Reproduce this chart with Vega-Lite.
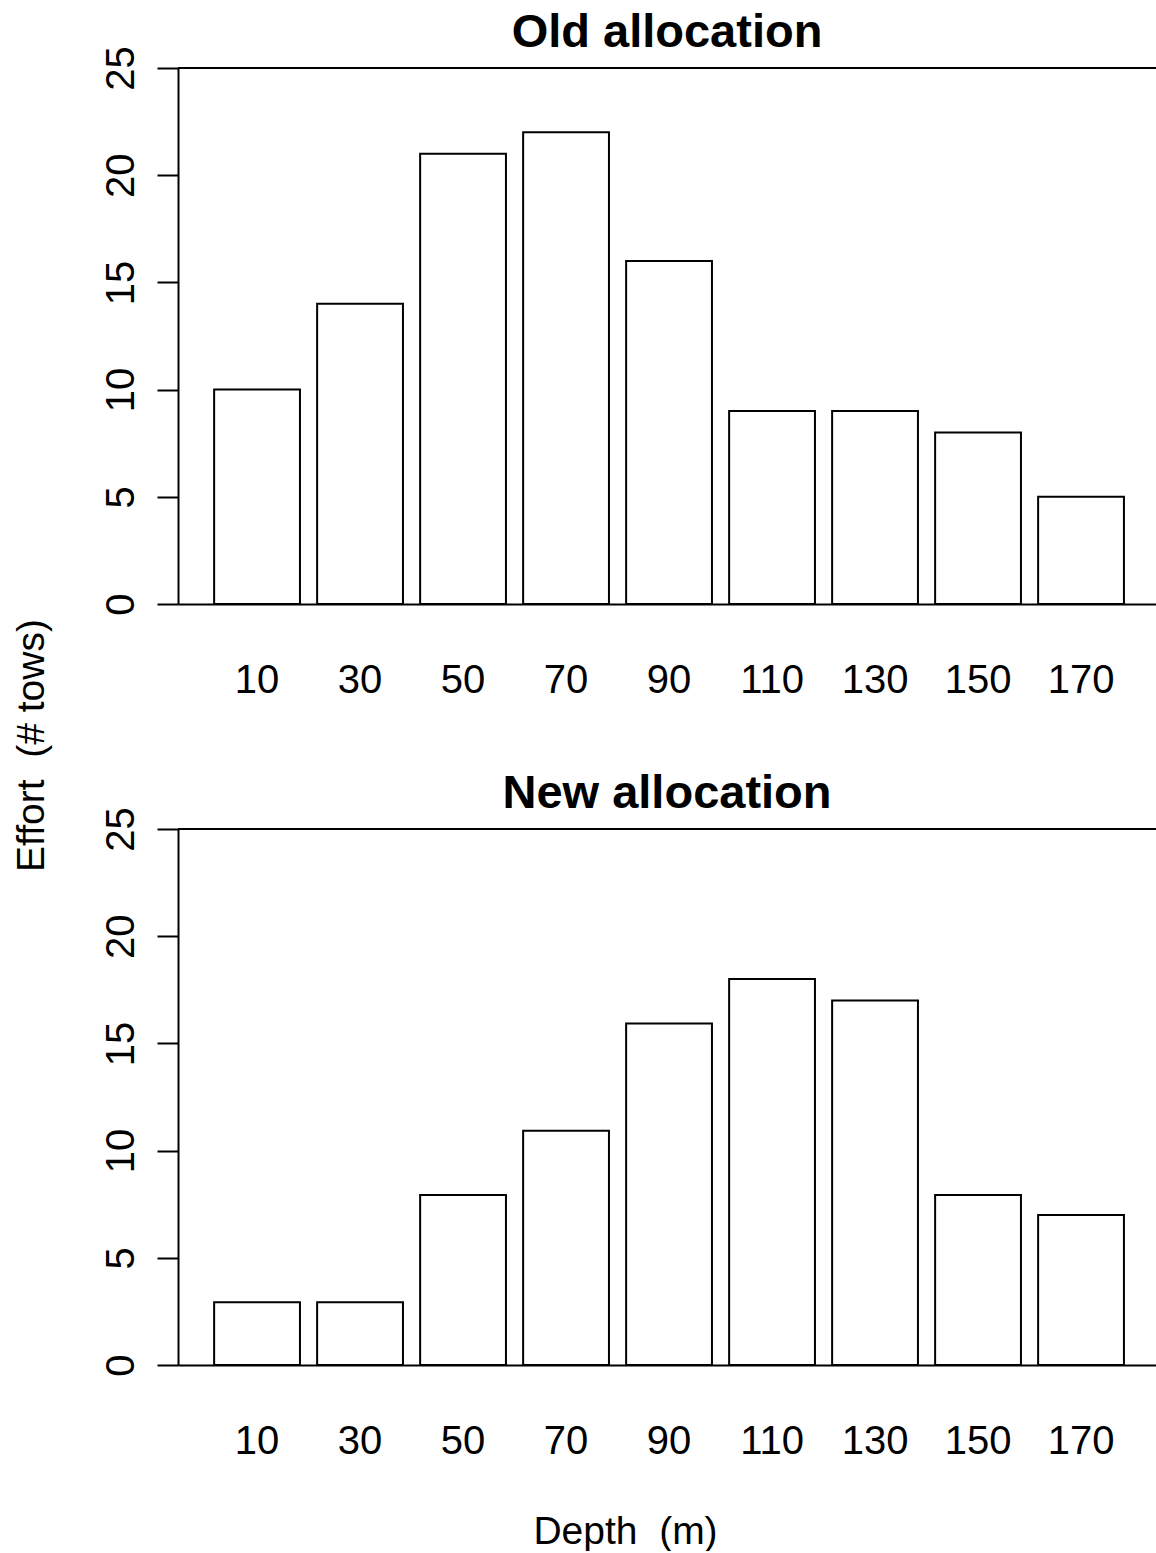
{
  "$schema": "https://vega.github.io/schema/vega-lite/v6.json",
  "background": "white",
  "padding": {"left": 12, "top": 8, "right": 0, "bottom": 0},
  "bounds": "flush",
  "spacing": 225,
  "config": {
    "view": {"stroke": null},
    "font": "Liberation Sans",
    "title": {"font": "Liberation Sans", "fontSize": 47, "fontWeight": "bold", "color": "black", "anchor": "middle", "baseline": "alphabetic", "offset": -11},
    "axis": {"labelFont": "Liberation Sans", "titleFont": "Liberation Sans", "labelColor": "black", "titleColor": "black", "domainColor": "black", "tickColor": "black", "domainWidth": 2, "tickWidth": 2, "grid": false, "labelFontSize": 40, "titleFontSize": 39, "titleFontWeight": "normal"}
  },
  "datasets": {
    "old": [
      {"depth": "10", "tows": 10},
      {"depth": "30", "tows": 14},
      {"depth": "50", "tows": 21},
      {"depth": "70", "tows": 22},
      {"depth": "90", "tows": 16},
      {"depth": "110", "tows": 9},
      {"depth": "130", "tows": 9},
      {"depth": "150", "tows": 8},
      {"depth": "170", "tows": 5}
    ],
    "new": [
      {"depth": "10", "tows": 2.93},
      {"depth": "30", "tows": 2.93},
      {"depth": "50", "tows": 7.93},
      {"depth": "70", "tows": 10.93},
      {"depth": "90", "tows": 15.93},
      {"depth": "110", "tows": 18},
      {"depth": "130", "tows": 17},
      {"depth": "150", "tows": 7.93},
      {"depth": "170", "tows": 7}
    ]
  },
  "vconcat": [
    {
      "width": 978,
      "height": 536,
      "title": {"text": "Old allocation"},
      "data": {"name": "old"},
      "layer": [
        {
          "mark": {"type": "bar", "fill": "white", "stroke": "black", "strokeWidth": 2},
          "encoding": {
            "x": {"field": "depth", "type": "ordinal", "sort": null,
              "scale": {"paddingInner": 0.1667, "paddingOuter": 0.331, "align": 0.53},
              "axis": {"title": null, "ticks": false, "tickSize": 0, "labelAngle": 0, "labelPadding": 88, "labelBaseline": "alphabetic", "domain": true}},
            "y": {"field": "tows", "type": "quantitative",
              "scale": {"domain": [0, 25], "nice": false, "zero": true},
              "axis": {"title": "Effort \u00a0(# tows)", "values": [0, 5, 10, 15, 20, 25], "tickSize": 21, "labelAngle": 270, "labelAlign": "center", "labelBaseline": "alphabetic", "labelPadding": 24, "titleAngle": 270, "titleAlign": "center", "titleBaseline": "alphabetic", "titleX": -135, "titleY": 677}}
          }
        },
        {
          "mark": {"type": "rule", "stroke": "black", "strokeWidth": 2},
          "encoding": {"y": {"datum": 25}}
        }
      ]
    },
    {
      "width": 978,
      "height": 536,
      "title": {"text": "New allocation"},
      "data": {"name": "new"},
      "layer": [
        {
          "mark": {"type": "bar", "fill": "white", "stroke": "black", "strokeWidth": 2},
          "encoding": {
            "x": {"field": "depth", "type": "ordinal", "sort": null,
              "scale": {"paddingInner": 0.1667, "paddingOuter": 0.331, "align": 0.53},
              "axis": {"title": "Depth \u00a0(m)", "ticks": false, "tickSize": 0, "labelAngle": 0, "labelPadding": 88, "labelBaseline": "alphabetic", "domain": true, "titleAnchor": "start", "titleAlign": "center", "titleBaseline": "alphabetic", "titleX": 447, "titleY": 178}},
            "y": {"field": "tows", "type": "quantitative",
              "scale": {"domain": [0, 25], "nice": false, "zero": true},
              "axis": {"title": null, "values": [0, 5, 10, 15, 20, 25], "tickSize": 21, "labelAngle": 270, "labelAlign": "center", "labelBaseline": "alphabetic", "labelPadding": 24}}
          }
        },
        {
          "mark": {"type": "rule", "stroke": "black", "strokeWidth": 2},
          "encoding": {"y": {"datum": 25}}
        }
      ]
    }
  ]
}
